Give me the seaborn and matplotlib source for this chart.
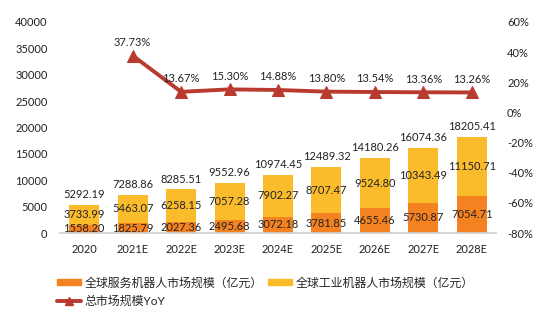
import matplotlib
matplotlib.use("Agg")
import matplotlib.pyplot as plt
import seaborn as sns
import numpy as np
import pandas as pd
from matplotlib.lines import Line2D
from matplotlib.patches import Patch

years = ["2020", "2021E", "2022E", "2023E", "2024E", "2025E", "2026E", "2027E", "2028E"]
service = [1558.20, 1825.79, 2027.36, 2495.68, 3072.18, 3781.85, 4655.46, 5730.87, 7054.71]
industrial = [3733.99, 5463.07, 6258.15, 7057.28, 7902.27, 8707.47, 9524.80, 10343.49, 11150.71]
total = [5292.19, 7288.86, 8285.51, 9552.96, 10974.45, 12489.32, 14180.26, 16074.36, 18205.41]
yoy = [None, 37.73, 13.67, 15.30, 14.88, 13.80, 13.54, 13.36, 13.26]

sns.set_theme(style="white")
plt.rcParams['font.family'] = ['Lato', 'Noto Sans CJK SC', 'DejaVu Sans']

c_serv = "#F58220"
c_ind = "#FBBC2C"
c_line = "#B93A2E"

fig = plt.figure(figsize=(5.5, 3.23), dpi=100)
ax = fig.add_axes([60/550, 1-233/323, (496-60)/550, (233-22)/323])

df = pd.DataFrame({"year": years, "service": service, "industrial": industrial, "total": total})
sns.barplot(data=df, x="year", y="total", color=c_ind, width=0.62, ax=ax, saturation=1, edgecolor="none")
sns.barplot(data=df, x="year", y="service", color=c_serv, width=0.62, ax=ax, saturation=1, edgecolor="none")

fs = 8
for i in range(len(years)):
    ax.text(i, service[i] / 2, f"{service[i]:.2f}", ha="center", va="center", fontsize=fs, color="#222222")
    ax.text(i, service[i] + industrial[i] / 2, f"{industrial[i]:.2f}", ha="center", va="center", fontsize=fs, color="#222222")
    ax.text(i, total[i] + 900, f"{total[i]:.2f}", ha="center", va="bottom", fontsize=fs, color="#222222")

ax.set_ylim(0, 40000)
ax.set_yticks(np.arange(0, 40001, 5000))
ax.set_xlim(-0.5, len(years) - 0.5)
ax.set_xlabel("")
ax.set_ylabel("")
ax.tick_params(axis="y", labelsize=fs, colors="#222222", length=0, pad=9)
ax.tick_params(axis="x", labelsize=fs, colors="#222222", length=0, pad=8)
for s in ["top", "right", "left"]:
    ax.spines[s].set_visible(False)
ax.spines["bottom"].set_color("#D0D0D0")

ax2 = ax.twinx()
xs = [i for i in range(len(years)) if yoy[i] is not None]
ys = [yoy[i] for i in xs]
sns.lineplot(x=xs, y=ys, ax=ax2, color=c_line, linewidth=2.8, marker="^", markersize=8, markeredgecolor=c_line)
for x, y in zip(xs, ys):
    ax2.text(x, y + 5, f"{y:.2f}%", ha="center", va="bottom", fontsize=fs, color="#222222")
ax2.set_ylim(-80, 60)
ax2.set_yticks(np.arange(-80, 61, 20))
ax2.set_yticklabels([f"{v}%" for v in range(-80, 61, 20)])
ax2.tick_params(axis="y", labelsize=fs, colors="#222222", length=0, pad=8)
for s in ["top", "right", "left", "bottom"]:
    ax2.spines[s].set_visible(False)
ax2.set_ylabel("")
ax.set_xlim(-0.5, len(years) - 0.5)

handles = [Patch(color=c_serv, label="全球服务机器人市场规模（亿元）"),
           Line2D([0], [0], color=c_line, lw=2.8, marker="^", markersize=6, label="总市场规模YoY"),
           Patch(color=c_ind, label="全球工业机器人市场规模（亿元）")]
leg = fig.legend(handles=handles, loc="upper left", bbox_to_anchor=(46/550, 1-266/323), ncol=2,
                 frameon=False, fontsize=8.6, handlelength=2.0, handleheight=0.5,
                 columnspacing=0.5, handletextpad=0.3, labelspacing=0.55)

fig.savefig("out.png", dpi=100)
